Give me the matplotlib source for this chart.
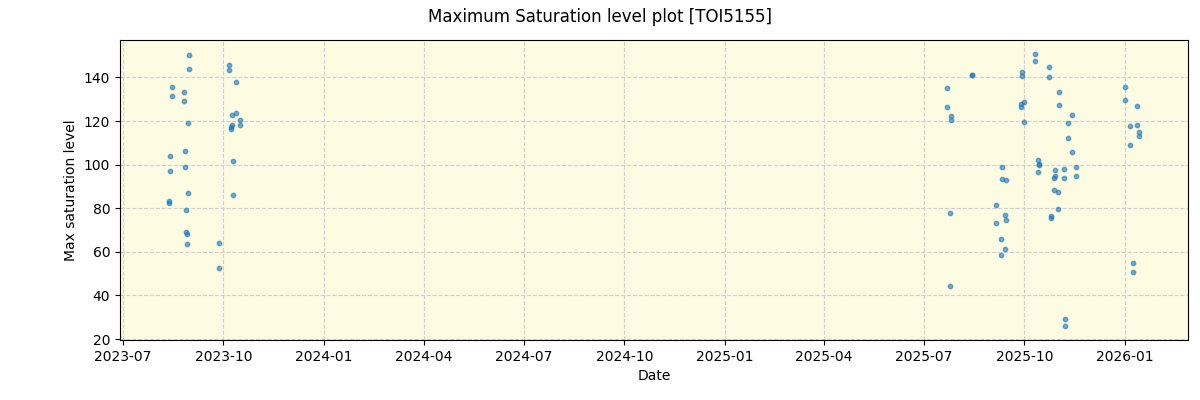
import matplotlib
matplotlib.use("Agg")
import matplotlib.pyplot as plt
import matplotlib.dates as mdates
import pandas as pd

# ── Observation dates and max saturation levels ───────────────────────────
dates = [
    # 2023 season
    "2023-08-12", "2023-08-12", "2023-08-13", "2023-08-13", "2023-08-15", "2023-08-15",
    "2023-08-26", "2023-08-26", "2023-08-27", "2023-08-27", "2023-08-28", "2023-08-28",
    "2023-08-29", "2023-08-29", "2023-08-30", "2023-08-30", "2023-08-31", "2023-08-31",
    "2023-09-27", "2023-09-27",
    "2023-10-06", "2023-10-06", "2023-10-08", "2023-10-08", "2023-10-09", "2023-10-09",
    "2023-10-10", "2023-10-10", "2023-10-13", "2023-10-13", "2023-10-16", "2023-10-16",
    # 2025 season
    "2025-07-22", "2025-07-22", "2025-07-25", "2025-07-25", "2025-07-26", "2025-07-26",
    "2025-08-14", "2025-08-14",
    "2025-09-05", "2025-09-05", "2025-09-10", "2025-09-10", "2025-09-11", "2025-09-11",
    "2025-09-13", "2025-09-13", "2025-09-14", "2025-09-14",
    "2025-09-28", "2025-09-28", "2025-09-29", "2025-09-29", "2025-10-01", "2025-10-01",
    "2025-10-11", "2025-10-11", "2025-10-13", "2025-10-13", "2025-10-14", "2025-10-14",
    "2025-10-23", "2025-10-23", "2025-10-25", "2025-10-25", "2025-10-28", "2025-10-28",
    "2025-10-29", "2025-10-29", "2025-11-01", "2025-11-01", "2025-11-02", "2025-11-02",
    "2025-11-06", "2025-11-06", "2025-11-07", "2025-11-07", "2025-11-10", "2025-11-10",
    "2025-11-13", "2025-11-13", "2025-11-17", "2025-11-17",
    # 2026 season
    "2026-01-01", "2026-01-01", "2026-01-05", "2026-01-05", "2026-01-08", "2026-01-08",
    "2026-01-12", "2026-01-12", "2026-01-14", "2026-01-14",
]
max_sat = [
    83.2, 82.5, 104.0, 97.1, 135.7, 131.6,
    133.4, 129.3, 106.3, 98.9, 79.2, 69.1,
    68.1, 63.5, 119.2, 87.0, 150.4, 144.0,
    64.0, 52.5,
    145.5, 143.5, 117.3, 116.4, 122.8, 118.2,
    101.7, 86.1, 138.0, 123.7, 120.5, 118.2,
    135.3, 126.5, 77.8, 44.2, 122.4, 120.6,
    141.2, 141.0,
    81.5, 73.2, 65.8, 58.5, 98.9, 93.4,
    76.9, 61.2, 93.0, 74.6,
    128.0, 126.5, 142.6, 140.8, 128.5, 119.6,
    150.9, 147.7, 102.2, 96.6, 99.9, 100.1,
    144.9, 140.3, 76.4, 75.5, 93.9, 88.4,
    97.6, 94.8, 87.4, 79.6, 133.4, 127.4,
    98.0, 93.9, 29.1, 25.8, 119.2, 112.3,
    122.8, 105.8, 98.9, 94.8,
    135.7, 129.7, 117.8, 109.1, 54.8, 50.7,
    127.0, 118.2, 115.0, 113.2,
]

TITLE = "Maximum Saturation level plot [TOI5155]"

x = pd.to_datetime(dates)

fig, ax = plt.subplots(figsize=(12, 4), dpi=100)
fig.subplots_adjust(left=0.1, right=0.99, top=0.9, bottom=0.15)
ax.set_facecolor("#fdfbe2")
ax.scatter(x, max_sat, s=10, color="C0", alpha=0.6, zorder=3)

ax.set_xlabel("Date")
ax.set_ylabel("Max saturation level")
ax.grid(True, linestyle="--", color="#d0d0d0", linewidth=0.8)
ax.xaxis.set_major_locator(mdates.MonthLocator(bymonth=[1, 4, 7, 10]))
ax.xaxis.set_major_formatter(mdates.DateFormatter("%Y-%m"))
fig.suptitle(TITLE)

fig.savefig("out.png", dpi=100)
